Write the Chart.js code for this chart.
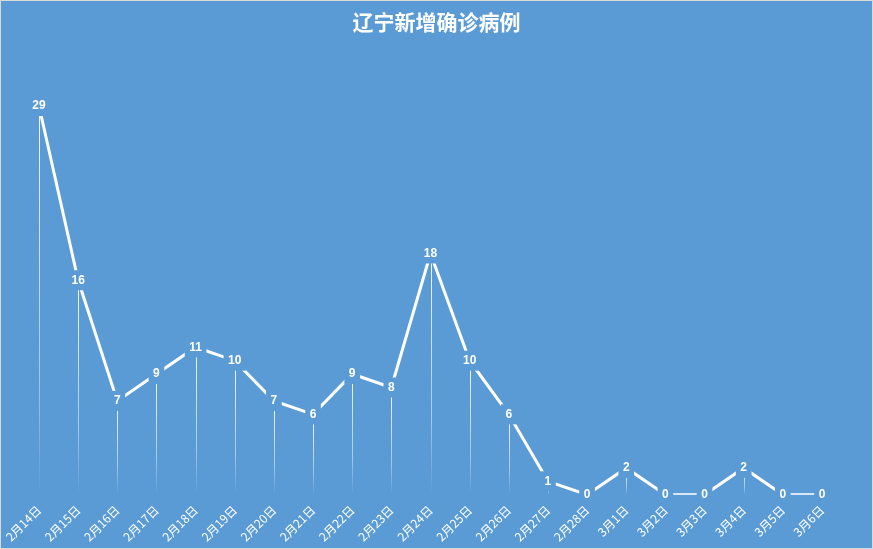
<!DOCTYPE html>
<html>
<head>
<meta charset="utf-8">
<script src="https://cdn.jsdelivr.net/npm/chart.js@4.4.0/dist/chart.umd.min.js"></script>
<style>
  body { margin: 0; background: #fff; }
  #wrap { width: 871px; height: 547px; border: 1px solid #d9d9d9; background: #5b9bd5; }
</style>
</head>
<body>
<div id="wrap"><canvas id="chart" width="871" height="547"></canvas></div>
<script>
const categories = ["2月14日", "2月15日", "2月16日", "2月17日", "2月18日", "2月19日", "2月20日",
  "2月21日", "2月22日", "2月23日", "2月24日", "2月25日", "2月26日", "2月27日", "2月28日",
  "3月1日", "3月2日", "3月3日", "3月4日", "3月5日", "3月6日"];
const newCases = [29, 16, 7, 9, 11, 10, 7, 6, 9, 8, 18, 10, 6, 1, 0, 2, 0, 0, 2, 0, 0];
const chartTitle = "辽宁新增确诊病例";

const bg = "#5b9bd5";
const cjk = "'Noto Sans CJK SC', 'Liberation Sans', sans-serif";

// title centred on the whole canvas, not on the plot
const titlePlugin = {
  id: "centredTitle",
  afterDraw(chart) {
    const ctx = chart.ctx;
    ctx.save();
    ctx.font = "bold 21px " + cjk;
    ctx.fillStyle = "#ffffff";
    ctx.textAlign = "center";
    ctx.textBaseline = "middle";
    ctx.fillText(chartTitle, chart.width / 2, 21);
    ctx.restore();
  }
};

// thin fading drop lines from each point down to the axis
const dropLines = {
  id: "dropLines",
  beforeDatasetsDraw(chart) {
    const ctx = chart.ctx;
    const meta = chart.getDatasetMeta(0);
    const bottom = chart.chartArea.bottom;
    ctx.save();
    meta.data.forEach(function (pt) {
      if (bottom - pt.y < 2) return;
      const g = ctx.createLinearGradient(0, pt.y, 0, bottom);
      g.addColorStop(0, "rgba(255,255,255,0.95)");
      g.addColorStop(0.7, "rgba(255,255,255,0.45)");
      g.addColorStop(1, "rgba(255,255,255,0)");
      ctx.strokeStyle = g;
      ctx.lineWidth = 1;
      ctx.beginPath();
      ctx.moveTo(Math.round(pt.x) + 0.5, pt.y);
      ctx.lineTo(Math.round(pt.x) + 0.5, bottom);
      ctx.stroke();
    });
    ctx.restore();
  }
};

// value labels centred on the points, with a patch that cuts the line
const valueLabels = {
  id: "valueLabels",
  afterDatasetsDraw(chart) {
    const ctx = chart.ctx;
    const meta = chart.getDatasetMeta(0);
    ctx.save();
    ctx.font = "bold 12px 'Liberation Sans', sans-serif";
    ctx.textAlign = "center";
    ctx.textBaseline = "middle";
    meta.data.forEach(function (pt, i) {
      const txt = String(newCases[i]);
      const w = ctx.measureText(txt).width + 9;
      ctx.fillStyle = bg;
      ctx.fillRect(pt.x - w / 2, pt.y - 10, w, 20);
      ctx.fillStyle = "#ffffff";
      ctx.fillText(txt, pt.x, pt.y);
    });
    ctx.restore();
  }
};

new Chart(document.getElementById("chart"), {
  type: "line",
  data: {
    labels: categories,
    datasets: [{
      label: "新增确诊",
      data: newCases,
      borderColor: "#ffffff",
      borderWidth: 3,
      pointRadius: 0,
      tension: 0,
      fill: false
    }]
  },
  options: {
    responsive: false,
    animation: false,
    layout: { padding: { left: 38, right: 50, top: 38, bottom: 4 } },
    plugins: {
      legend: { display: false },
      tooltip: { enabled: false },
      title: { display: false }
    },
    scales: {
      x: {
        grid: { display: false },
        border: { display: false },
        ticks: {
          color: "#ffffff",
          font: { family: cjk, size: 12 },
          maxRotation: 45,
          minRotation: 45,
          autoSkip: false,
          padding: 0
        }
      },
      y: {
        display: false,
        min: 0,
        max: 34
      }
    }
  },
  plugins: [dropLines, valueLabels, titlePlugin]
});
</script>
</body>
</html>
